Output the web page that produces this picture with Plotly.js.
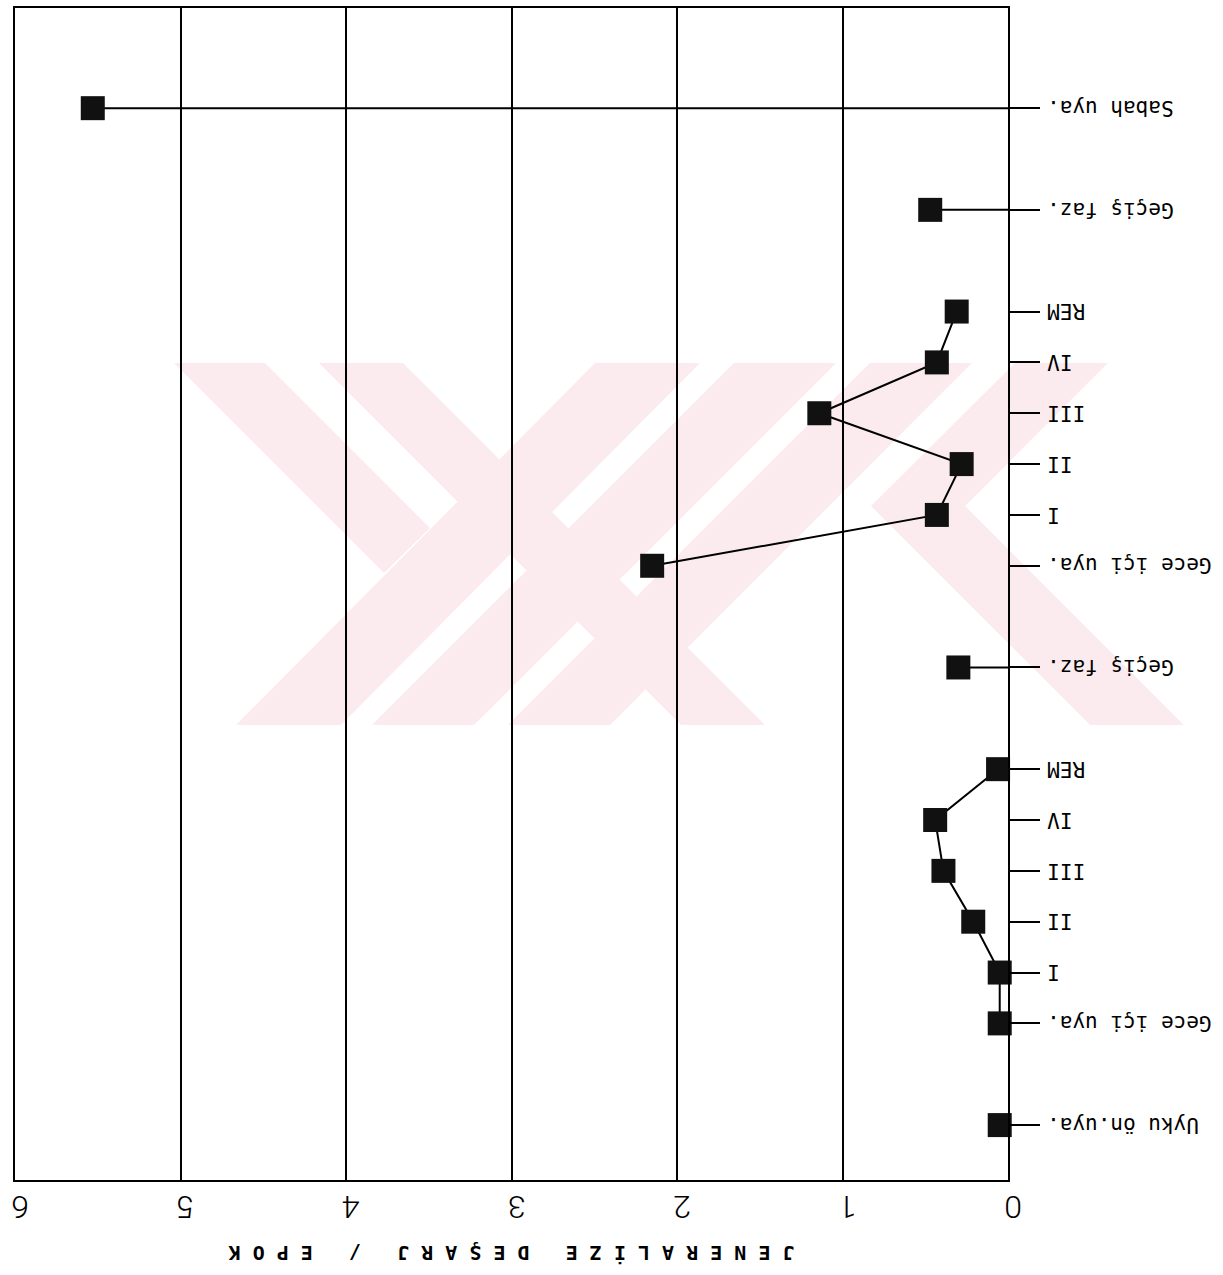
<!DOCTYPE html>
<html>
<head>
<meta charset="utf-8">
<script src="https://cdn.plot.ly/plotly-3.0.1.min.js"></script>
<style>
  html, body { margin: 0; padding: 0; background: #ffffff; }
  /* the plotter sheet is printed upside down */
  #chart { width: 1223px; height: 1275px; transform: rotate(180deg); transform-origin: 50% 50%; }
</style>
</head>
<body>
<div id="chart"></div>
<script>
// Sleep stages, top to bottom; null rows are the blank gaps between blocks
const stages = [
  "Uyku ön.uya.", null,
  "Gece içi uya.", "I", "II", "III", "IV", "REM", null,
  "Geçiş faz.", null,
  "Gece içi uya.", "I", "II", "III", "IV", "REM", null,
  "Geçiş faz.", null,
  "Sabah uya."
];

// Generalised discharges per epoch for each stage
const discharge = [
  0.05, null,
  0.05, 0.05, 0.21, 0.39, 0.44, 0.06, null,
  0.30, null,
  2.15, 0.43, 0.28, 1.14, 0.43, 0.31, null,
  0.47, null,
  5.53
];

const xTicks = [0, 1, 2, 3, 4, 5, 6];
const xTitle = "J E N E R A L İ Z E   D E Ş A R J   /   E P O K";

// Faint pink background emblem (outline points in sheet pixels)
const emblem = [
  [[174,363],[265,363],[430,528],[384,573]],
  [[595,363],[700,363],[341,725],[236,725]],
  [[319,363],[403,363],[765,725],[681,725]],
  [[734,363],[836,363],[474,725],[372,725]],
  [[870,363],[972,363],[610,725],[508,725]],
  [[1015,363],[1108,363],[965,506],[1184,725],[1090,725],[871,506]]
];

const rowIndex = stages.map((s, i) => i);
const tickRows = rowIndex.filter(i => stages[i] !== null);
const tickNames = tickRows.map(i => stages[i]);

// Points with no neighbour on either side get a stem from the zero line
const stemX = [], stemY = [];
discharge.forEach((v, i) => {
  if (v === null) return;
  const prev = i > 0 ? discharge[i - 1] : null;
  const next = i < discharge.length - 1 ? discharge[i + 1] : null;
  if (prev === null && next === null) {
    stemX.push(0, v, null);
    stemY.push(i, i, null);
  }
});

// Plot frame geometry in page pixels (before the sheet is turned)
const W = 1223, H = 1275;
const M = { l: 215, r: 15, t: 95, b: 8 };
const plotW = W - M.l - M.r, plotH = H - M.t - M.b;
function toPaper(pt) {
  const ox = W - pt[0], oy = H - pt[1];
  return [(ox - M.l) / plotW, (H - M.b - oy) / plotH];
}
const shapes = emblem.map(poly => {
  const p = poly.map(toPaper);
  return {
    type: 'path', xref: 'paper', yref: 'paper', layer: 'below',
    path: 'M' + p.map(q => q[0].toFixed(4) + ',' + q[1].toFixed(4)).join('L') + 'Z',
    fillcolor: '#fcebee', line: { width: 0 }
  };
});

const traces = [
  {
    x: stemX, y: stemY, type: 'scatter', mode: 'lines',
    line: { color: '#000000', width: 2 }, hoverinfo: 'skip', cliponaxis: false
  },
  {
    x: discharge, y: rowIndex, type: 'scatter', mode: 'lines+markers',
    connectgaps: false, cliponaxis: false,
    line: { color: '#000000', width: 2 },
    marker: { symbol: 'square', size: 24, color: '#111111' }
  }
];

const layout = {
  width: W, height: H,
  margin: M,
  paper_bgcolor: '#ffffff',
  plot_bgcolor: 'rgba(0,0,0,0)',
  showlegend: false,
  shapes: shapes,
  xaxis: {
    range: [0, 6], side: 'top', tickmode: 'array', tickvals: xTicks,
    ticktext: xTicks.map(String), ticks: '',
    showgrid: true, gridcolor: '#000000', gridwidth: 2,
    showline: true, mirror: true, linecolor: '#000000', linewidth: 2,
    zeroline: false, automargin: false, ticklabelstandoff: 1, ticklabelshift: -5,
    tickfont: { family: 'Roboto, DejaVu Sans, sans-serif', size: 32, weight: 300, color: '#000000' },
    title: { text: xTitle, standoff: 14,
             font: { family: 'DejaVu Sans Mono, monospace', size: 20, weight: 'bold', color: '#000000' } }
  },
  yaxis: {
    range: [21.97, -1.08], tickmode: 'array', tickvals: tickRows, ticktext: tickNames,
    ticks: 'outside', ticklen: 30, tickwidth: 2, tickcolor: '#000000',
    showgrid: false, zeroline: false,
    showline: true, mirror: true, linecolor: '#000000', linewidth: 2,
    automargin: false, ticklabelstandoff: 3,
    tickfont: { family: 'DejaVu Sans Mono, monospace', size: 21, color: '#000000' }
  }
};

Plotly.newPlot('chart', traces, layout, { staticPlot: true, displayModeBar: false });
</script>
</body>
</html>
